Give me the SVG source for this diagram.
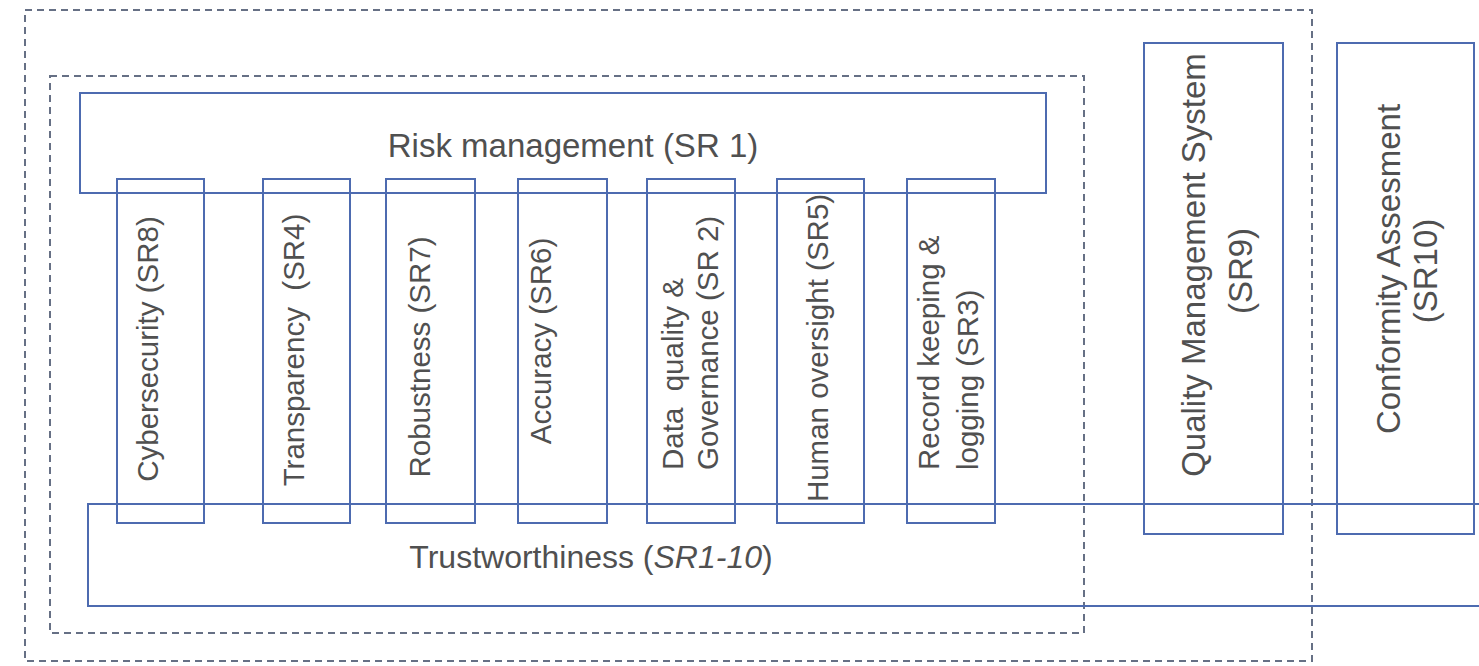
<svg xmlns="http://www.w3.org/2000/svg" width="1479" height="666" viewBox="0 0 1479 666">
<style>
.dash{fill:none;stroke:#667085;stroke-width:2;stroke-dasharray:7 5}
.box{fill:none;stroke:#4d6bb0;stroke-width:2}
.t{font-family:"Liberation Sans",Arial,sans-serif;fill:#505050}
.h{font-size:33px;text-anchor:middle}
.v{font-size:29.5px}
.m{text-anchor:middle}
.q{font-size:33px;text-anchor:middle}
</style>
<rect width="1479" height="666" fill="#ffffff"/>
<g id="outer-group"><rect class="dash" x="25" y="10" width="1287" height="651"/></g>
<g id="inner-group"><rect class="dash" x="50" y="76" width="1034" height="557"/></g>
<g id="risk-management">
<rect class="box" x="80" y="93" width="966" height="100"/>
<text class="t h" x="573" y="157">Risk management (SR 1)</text>
</g>
<g id="trustworthiness">
<path class="box" d="M1490 504 H88 V606 H1490"/>
<text class="t" x="591" y="568" font-size="32" text-anchor="middle">Trustworthiness (<tspan font-style="italic">SR1-10</tspan>)</text>
</g>
<g id="cybersecurity">
<rect class="box" x="117" y="179" width="87" height="344"/>
<text class="t v m" transform="translate(158 349) rotate(-90)">Cybersecurity (SR8)</text>
</g>
<g id="transparency">
<rect class="box" x="263" y="179" width="87" height="344"/>
<text class="t v m" transform="translate(304 350) rotate(-90)" xml:space="preserve">Transparency  (SR4)</text>
</g>
<g id="robustness">
<rect class="box" x="386" y="179" width="89" height="344"/>
<text class="t v m" transform="translate(430 357) rotate(-90)">Robustness (SR7)</text>
</g>
<g id="accuracy">
<rect class="box" x="518" y="179" width="89" height="344"/>
<text class="t v m" transform="translate(551 341) rotate(-90)">Accuracy (SR6)</text>
</g>
<g id="data-quality">
<rect class="box" x="647" y="179" width="88" height="344"/>
<text class="t v" transform="translate(683 470) rotate(-90)" xml:space="preserve">Data  quality &amp;</text>
<text class="t v" transform="translate(718 470) rotate(-90)">Governance (SR 2)</text>
</g>
<g id="human-oversight">
<rect class="box" x="777" y="179" width="87" height="344"/>
<text class="t v m" transform="translate(828 348) rotate(-90)">Human oversight (SR5)</text>
</g>
<g id="record-keeping">
<rect class="box" x="907" y="179" width="88" height="344"/>
<text class="t v" transform="translate(939 470) rotate(-90)">Record keeping &amp;</text>
<text class="t v" transform="translate(978 470) rotate(-90)">logging (SR3)</text>
</g>
<g id="quality-management">
<rect class="box" x="1144" y="43" width="139" height="491"/>
<text class="t q" transform="translate(1205 265) rotate(-90)">Quality Management System</text>
<text class="t q" transform="translate(1252 271) rotate(-90)">(SR9)</text>
</g>
<g id="conformity">
<rect class="box" x="1337" y="43" width="137" height="491"/>
<text class="t q" transform="translate(1400 269) rotate(-90)">Conformity Assesment</text>
<text class="t q" transform="translate(1437 271) rotate(-90)">(SR10)</text>
</g>
<g id="connectors"></g>
</svg>
